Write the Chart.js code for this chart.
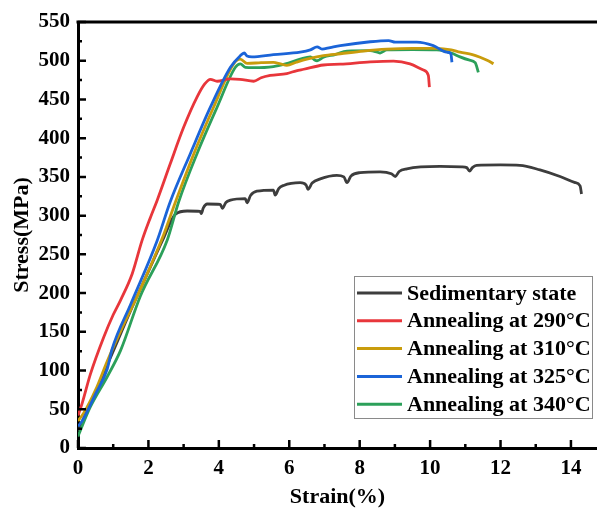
<!DOCTYPE html>
<html>
<head>
<meta charset="utf-8">
<script src="https://cdn.jsdelivr.net/npm/chart.js@4.4.1/dist/chart.umd.min.js"></script>
<style>
	html, body { margin: 0; padding: 0; background: #fff; }
	#wrap { width: 597px; height: 511px; }
</style>
</head>
<body>
<div id="wrap"><canvas id="chart"></canvas></div>
<script>
// stress-strain curves, [strain %, stress MPa]
const sedimentary = [
	[0, 22], [0.5, 72], [1.0, 125], [1.5, 178], [2.0, 228], [2.4, 268], [2.77, 302],
	[3.1, 306], [3.47, 305.5], [3.5, 302.5], [3.56, 310], [3.67, 315], [4.04, 314.5], [4.1, 309.5],
	[4.2, 317], [4.33, 320], [4.75, 322], [4.8, 316.5], [4.9, 326], [5.08, 331.5], [5.55, 333],
	[5.6, 326.5], [5.7, 335], [5.84, 339], [6.31, 342.5], [6.48, 339.5], [6.53, 334], [6.65, 342],
	[6.88, 347.5], [7.35, 352], [7.55, 350], [7.64, 342.5], [7.75, 351], [8.01, 355.5], [8.58, 356.5],
	[8.9, 354], [9.01, 350.5], [9.12, 357], [9.34, 360.5], [10.28, 363.5], [10.9, 363], [11.04, 362],
	[11.12, 357.5], [11.2, 362], [11.32, 365], [12.0, 365.5], [12.55, 365], [13.12, 359],
	[13.69, 350.5], [14.1, 343], [14.26, 338.5], [14.3, 328],
];
const anneal290 = [
	[0, 42], [0.12, 58], [0.35, 95], [0.73, 143], [1.0, 172], [1.21, 191], [1.54, 225], [1.82, 268],
	[2.06, 298], [2.25, 320], [2.62, 367], [3.0, 414], [3.38, 453], [3.6, 470], [3.76, 476],
	[3.95, 473.5], [4.33, 476.5], [4.6, 476], [4.99, 473.5], [5.2, 478], [5.46, 481], [5.93, 483.5],
	[6.2, 487], [6.41, 489], [6.97, 494.5], [7.45, 495.5], [8.3, 498.5], [8.96, 499.5], [9.43, 496],
	[9.81, 488], [9.95, 481], [9.98, 466],
];
const anneal310 = [
	[0, 35], [0.16, 45], [0.5, 75], [0.83, 112], [1.2, 150], [1.72, 200], [2.43, 275], [2.77, 318],
	[3.29, 380], [3.85, 440], [4.42, 496], [4.61, 502], [4.8, 496.5], [5.2, 497.5], [5.55, 498],
	[5.75, 496], [5.93, 494], [6.2, 498], [6.5, 502], [6.97, 506.5], [7.45, 509], [8.1, 512.5],
	[8.77, 515], [9.5, 516], [10.19, 516], [10.6, 514], [10.85, 511], [11.2, 508], [11.42, 504.5],
	[11.65, 500], [11.8, 496],
];
const anneal325 = [
	[0, 28], [0.12, 35], [0.5, 70], [0.83, 102], [0.97, 128], [1.5, 186], [2.25, 268], [2.62, 318],
	[3.19, 380], [3.76, 440], [4.33, 491.5], [4.61, 506.5], [4.72, 510], [4.8, 506], [4.94, 505],
	[5.55, 508], [6.31, 511], [6.6, 514], [6.79, 518], [6.93, 515], [7.16, 517], [7.45, 519.5],
	[8.3, 524.5], [8.82, 526], [9.01, 524], [9.62, 524], [10.09, 519.5], [10.47, 511], [10.59, 509],
	[10.62, 498],
];
const anneal340 = [
	[0, 15], [0.07, 23], [0.35, 53], [0.83, 92], [1.21, 126], [1.77, 196], [2.53, 268], [2.86, 318],
	[3.38, 380], [3.95, 440], [4.47, 491.5], [4.61, 496], [4.75, 491.5], [4.99, 491], [5.55, 492.5],
	[5.89, 496], [6.31, 502], [6.6, 505], [6.72, 501], [6.79, 500], [6.97, 504.5], [7.3, 508],
	[7.64, 512.5], [8.3, 513], [8.5, 511], [8.58, 510], [8.77, 514], [9.5, 514.5], [10.19, 514],
	[10.6, 510], [10.85, 505], [11.1, 501], [11.28, 497.5], [11.37, 485],
];

const seriesLabels = ['Sedimentary state', 'Annealing at 290°C', 'Annealing at 310°C', 'Annealing at 325°C', 'Annealing at 340°C'];
const seriesData = [sedimentary, anneal290, anneal310, anneal325, anneal340];
const seriesColors = ['#3d3d3d', '#e8363b', '#c99c0c', '#1b64d8', '#2ca05a'];
// lower order draws on top: blue over the rest, grey underneath
const seriesOrder = [5, 2, 3, 1, 4];

const FONT = "'Liberation Serif', 'Times New Roman', serif";
Chart.defaults.font.family = FONT;
Chart.defaults.font.weight = 'bold';
Chart.defaults.color = '#000';

// ticks point into the plot, majors longer than minors; plus the top frame line
const innerTicks = {
	id: 'innerTicks',
	afterDraw(chart) {
		const { ctx, chartArea: a, scales: { x, y } } = chart;
		ctx.save();
		ctx.strokeStyle = '#000';
		ctx.lineWidth = 2.5;
		ctx.beginPath();
		for (let v = 0; v <= 14; v++) {
			const px = x.getPixelForValue(v);
			ctx.moveTo(px, a.bottom);
			ctx.lineTo(px, a.bottom - (v % 2 === 0 ? 8 : 4));
		}
		for (let v = 0; v <= 550; v += 25) {
			const py = y.getPixelForValue(v);
			ctx.moveTo(a.left, py);
			ctx.lineTo(a.left + (v % 50 === 0 ? 8 : 4), py);
		}
		ctx.stroke();
		ctx.lineWidth = 3;
		ctx.beginPath();
		ctx.moveTo(a.left - 1.5, a.top);
		ctx.lineTo(a.right, a.top);
		ctx.stroke();
		ctx.restore();
	},
};

// boxed legend sitting in the lower right of the plot
const boxLegend = {
	id: 'boxLegend',
	afterDatasetsDraw(chart) {
		const { ctx, chartArea: a } = chart;
		const left = a.right - 243, top = a.top + 254, w = 238, h = 142;
		ctx.save();
		ctx.fillStyle = '#fff';
		ctx.fillRect(left, top, w, h);
		ctx.strokeStyle = '#8a8a8a';
		ctx.lineWidth = 1;
		ctx.strokeRect(left + 0.5, top + 0.5, w, h);
		ctx.font = `bold 22px ${FONT}`;
		ctx.textBaseline = 'middle';
		chart.data.datasets.forEach((ds, i) => {
			const cy = top + 17 + i * 27.8;
			ctx.strokeStyle = ds.borderColor;
			ctx.lineWidth = 3;
			ctx.beginPath();
			ctx.moveTo(left + 3, cy);
			ctx.lineTo(left + 48, cy);
			ctx.stroke();
			ctx.fillStyle = '#000';
			ctx.fillText(ds.label, left + 53, cy + 1);
		});
		ctx.restore();
	},
};

const datasets = seriesLabels.map((label, i) => ({
	label,
	data: seriesData[i].map(([x, y]) => ({ x, y })),
	borderColor: seriesColors[i],
	backgroundColor: seriesColors[i],
	borderWidth: 2.8,
	pointRadius: 0,
	tension: 0.3,
	cubicInterpolationMode: 'monotone',
	order: seriesOrder[i],
}));

new Chart(document.getElementById('chart'), {
	type: 'line',
	data: { datasets },
	options: {
		responsive: true,
		maintainAspectRatio: false,
		animation: false,
		layout: { padding: { top: 22, right: 0, left: 0, bottom: 0 } },
		scales: {
			x: {
				type: 'linear',
				min: 0,
				max: 14.74,
				border: { display: true, width: 3, color: '#000' },
				grid: { drawOnChartArea: false, drawTicks: false },
				ticks: { stepSize: 2, includeBounds: false, padding: 8, font: { size: 21, weight: 'bold' } },
				title: { display: true, text: 'Strain(%)', font: { size: 22, weight: 'bold' }, padding: { top: 0, bottom: 0 } },
				afterFit: s => { s.height = 63; },
			},
			y: {
				min: 0,
				max: 550,
				border: { display: true, width: 3, color: '#000' },
				grid: { drawOnChartArea: false, drawTicks: false },
				ticks: { stepSize: 50, padding: 8, font: { size: 21, weight: 'bold' } },
				title: { display: true, text: 'Stress(MPa)', font: { size: 22, weight: 'bold' }, padding: { top: 9, bottom: 0 } },
				afterFit: s => { s.width = 78; },
			},
		},
		plugins: {
			legend: { display: false },
			tooltip: { enabled: false },
		},
	},
	plugins: [innerTicks, boxLegend],
});
</script>
</body>
</html>
